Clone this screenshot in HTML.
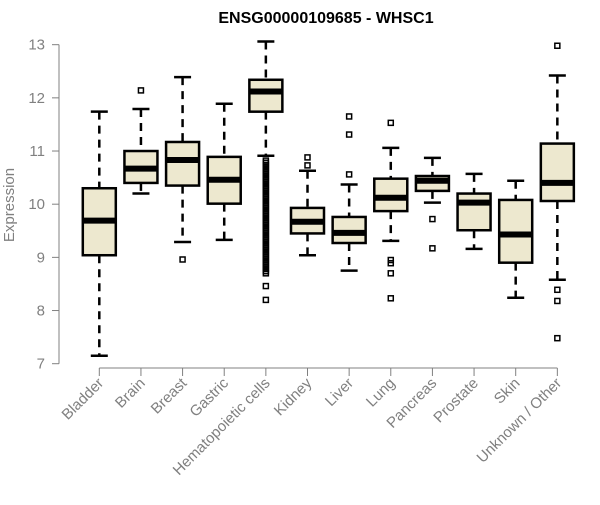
<!DOCTYPE html>
<html><head><meta charset="utf-8"><style>
body{margin:0;background:#fff}
svg text{font-family:"Liberation Sans",Arial,sans-serif}
</style></head><body>
<svg id="chart" width="600" height="500" viewBox="0 0 600 500" xmlns="http://www.w3.org/2000/svg">
<text x="326" y="23" text-anchor="middle" font-size="16" font-weight="bold" fill="#000">ENSG00000109685 - WHSC1</text>
<text transform="translate(14,205) rotate(-90)" text-anchor="middle" font-size="15" fill="#808080">Expression</text>
<g id="axes"></g>
<g id="boxes"></g>
</svg>
<script>
const categories=["Bladder","Brain","Breast","Gastric","Hematopoietic cells","Kidney","Liver","Lung","Pancreas","Prostate","Skin","Unknown / Other"];
const lowWhisker=[7.15,10.20,9.29,9.33,10.91,9.04,8.75,9.31,10.03,9.16,8.24,8.58];
const q1=[9.04,10.40,10.35,10.01,11.74,9.45,9.27,9.87,10.25,9.51,8.90,10.06];
const median=[9.69,10.67,10.83,10.46,12.12,9.67,9.46,10.12,10.44,10.03,9.43,10.40];
const q3=[10.30,11.00,11.17,10.89,12.34,9.93,9.76,10.48,10.53,10.20,10.08,11.14];
const highWhisker=[11.74,11.79,12.39,11.89,13.06,10.63,10.37,11.06,10.87,10.57,10.44,12.42];
const outliers=[[],[12.14],[8.96],[],
[10.82,10.78,10.74,10.70,10.66,10.62,10.58,10.54,10.50,10.46,10.42,10.38,10.34,10.30,10.26,10.22,10.18,10.14,10.10,10.06,10.02,9.98,9.94,9.90,9.86,9.82,9.78,9.74,9.70,9.66,9.62,9.58,9.54,9.50,9.46,9.42,9.38,9.34,9.30,9.26,9.22,9.18,9.14,9.10,9.06,9.02,8.98,8.94,8.90,8.86,8.82,8.78,8.74,8.70,8.46,8.20],
[10.88,10.73],[11.65,11.31,10.56],[11.53,8.95,8.89,8.70,8.23],[9.72,9.17],[],[],[12.98,8.39,8.18,7.48]];
const yTicks=[7,8,9,10,11,12,13];

const NS="http://www.w3.org/2000/svg";
const y=v=>363.7-(v-7)*53.17;
const x=i=>99.3+i*41.64;
const axes=document.getElementById('axes'),boxes=document.getElementById('boxes');
function mk(tag,attrs,parent){const e=document.createElementNS(NS,tag);for(const k in attrs)e.setAttribute(k,attrs[k]);parent.appendChild(e);return e;}
const gray="#808080";
let ya=mk('line',{x1:59,x2:59,y1:y(7),y2:y(13),stroke:gray,'stroke-width':1},axes);


yTicks.forEach(t=>{
  let l=mk('line',{x1:52,x2:59,y1:y(t),y2:y(t),stroke:gray},axes);
  
  
  let tx=mk('text',{x:45,y:y(t)+5,'text-anchor':'end','font-size':15,fill:gray},axes);
  tx.textContent=t;
  
  
});
let xa=mk('line',{x1:x(0),x2:x(categories.length-1),y1:368,y2:368,stroke:gray},axes);


categories.forEach((c,i)=>{
  let l=mk('line',{x1:x(i),x2:x(i),y1:368,y2:376,stroke:gray},axes);
  
  
  let tx=mk('text',{transform:`translate(${x(i)+5},${384}) rotate(-45)`,'text-anchor':'end','font-size':15,fill:gray},axes);
  tx.textContent=c;
  
  
});
categories.forEach((c,i)=>{
  const cx=x(i),hw=16.5,cap=8.5;
  const g=mk('g',{},boxes);
  
  
  mk('line',{x1:cx,x2:cx,y1:y(highWhisker[i]),y2:y(q3[i]),stroke:'#000','stroke-width':2.5,'stroke-dasharray':'8,6'},g);
  mk('line',{x1:cx,x2:cx,y1:y(q1[i]),y2:y(lowWhisker[i]),stroke:'#000','stroke-width':2.5,'stroke-dasharray':'8,6'},g);
  mk('line',{x1:cx-cap,x2:cx+cap,y1:y(highWhisker[i]),y2:y(highWhisker[i]),stroke:'#000','stroke-width':2.5},g);
  mk('line',{x1:cx-cap,x2:cx+cap,y1:y(lowWhisker[i]),y2:y(lowWhisker[i]),stroke:'#000','stroke-width':2.5},g);
  mk('rect',{x:cx-hw,y:y(q3[i]),width:2*hw,height:y(q1[i])-y(q3[i]),fill:'#ede8cf',stroke:'#000','stroke-width':2.5},g);
  mk('line',{x1:cx-hw,x2:cx+hw,y1:y(median[i]),y2:y(median[i]),stroke:'#000','stroke-width':6},g);
  outliers[i].forEach(v=>{
    const r=mk('rect',{x:cx-2.5,y:y(v)-2.5,width:5,height:5,fill:'none',stroke:'#000','stroke-width':1.5},g);
    
    
  });
});
</script>
</body></html>
